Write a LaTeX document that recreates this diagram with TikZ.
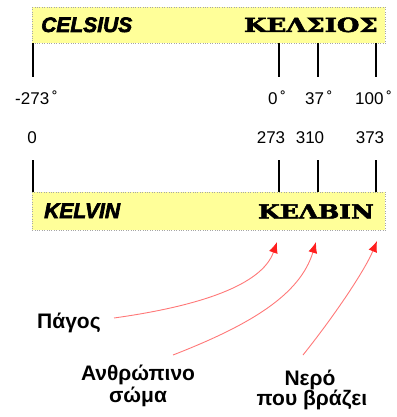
\documentclass[tikz,border=0pt]{standalone}
\usepackage{fontspec}
\setmainfont{Liberation Sans}
\newfontfamily\heavyit{Liberation Sans}[BoldItalicFeatures={FakeBold=3}]
\newfontfamily\grserif{DejaVu Serif}[BoldFeatures={FakeBold=2.5}]
\usetikzlibrary{arrows.meta}
\definecolor{baryellow}{RGB}{255,255,153}
\definecolor{arrred}{RGB}{255,30,30}
\tikzset{
  x=1pt,y=-1pt,
  bar/.style={draw=gray!70,dotted,fill=baryellow,minimum width=353pt,anchor=north west,inner sep=0pt},
  tick/.style={line width=1.3pt,black},
  num/.style={font=\fontsize{17}{17}\selectfont,inner sep=0pt},
  lab/.style={font=\fontsize{21}{21}\bfseries\selectfont,inner sep=0pt},
  title/.style={font=\fontsize{21}{21}\heavyit\bfseries\itshape\selectfont,inner sep=0pt},
  grtitle/.style={font=\fontsize{19.5}{19.5}\grserif\bfseries\selectfont,inner sep=0pt},
  pointer/.style={draw=arrred!60,line width=0.9pt,-{Latex[length=11pt,width=9pt,fill=arrred,color=arrred]}}
}
\newcommand{\dg}{\,˚}
\begin{document}
\begin{tikzpicture}
\useasboundingbox (0,0) rectangle (396,417);
% Celsius bar
\node[bar,minimum height=36pt] (cbar) at (32,7) {};
\node[title,anchor=base west] (ctitle) at (41,32) {CELSIUS};
\node[grtitle,anchor=base east] (cgr) at (378,32) {\scalebox{1.33}[1]{ΚΕΛΣΙΟΣ}};
% Celsius ticks
\coordinate (ct1a) at (33,43); \coordinate (ct1b) at (33,77);
\coordinate (ct2a) at (279,43); \coordinate (ct2b) at (279,77);
\coordinate (ct3a) at (318,43); \coordinate (ct3b) at (318,77);
\coordinate (ct4a) at (376,43); \coordinate (ct4b) at (376,77);
\foreach \i in {1,2,3,4}{\draw[tick] (ct\i a) -- (ct\i b);}
\node[num,anchor=base west] (c1) at (15,105) {-273\dg};
\node[num,anchor=base west] (c2) at (268,105) {0\dg};
\node[num,anchor=base west] (c3) at (305,105) {37\dg};
\node[num,anchor=base west] (c4) at (355,105) {100\dg};
% Kelvin labels
\node[num,anchor=base] (k1) at (32,143) {0};
\node[num,anchor=base] (k2) at (271,143) {273};
\node[num,anchor=base] (k3) at (310,143) {310};
\node[num,anchor=base] (k4) at (370,143) {373};
% Kelvin bar
\node[bar,minimum height=38pt] (kbar) at (32,192) {};
\coordinate (kt1a) at (33,160); \coordinate (kt1b) at (33,192);
\coordinate (kt2a) at (279,160); \coordinate (kt2b) at (279,192);
\coordinate (kt3a) at (318,160); \coordinate (kt3b) at (318,192);
\coordinate (kt4a) at (376,160); \coordinate (kt4b) at (376,192);
\foreach \i in {1,2,3,4}{\draw[tick] (kt\i a) -- (kt\i b);}
\node[title,anchor=base west] (ktitle) at (44,218) {KELVIN};
\node[grtitle,anchor=base east] (kgr) at (374,218.5) {\scalebox{1.28}[1]{ΚΕΛΒΙΝ}};
% labels
\node[lab,anchor=base west] (pagos) at (37,328) {Πάγος};
\node[lab,anchor=base] (soma1) at (138,380) {Ανθρώπινο};
\node[lab,anchor=base] (soma2) at (138,402) {σώμα};
\node[lab,anchor=base] (nero1) at (310,385) {Νερό};
\node[lab,anchor=base] (nero2) at (312,405) {που βράζει};
% arrow ends
\coordinate (t1) at (277,242);
\coordinate (t2) at (316,242);
\coordinate (t3) at (377,241);
\coordinate (s1) at (114,318);
\coordinate (s2) at (173,355);
\coordinate (s3) at (303,355);
\draw[pointer] (s1) .. controls (200,306) and (262,285) .. (t1);
\draw[pointer] (s2) .. controls (250,325) and (300,295) .. (t2);
\draw[pointer] (s3) .. controls (335,315) and (365,270) .. (t3);
\end{tikzpicture}
\end{document}
